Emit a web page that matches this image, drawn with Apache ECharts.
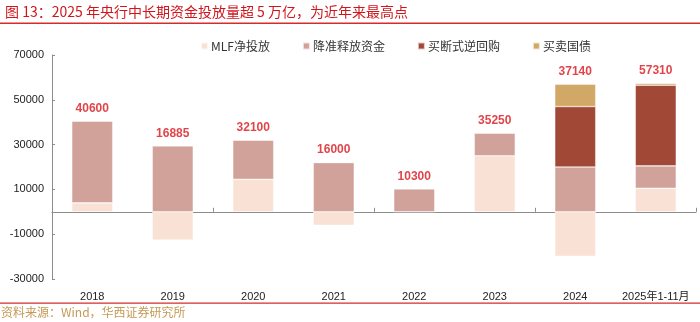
<!DOCTYPE html>
<html><head><meta charset="utf-8">
<script src="https://cdn.jsdelivr.net/npm/echarts@6/dist/echarts.min.js"></script>
<style>html,body{margin:0;padding:0;background:#fff}#c{width:700px;height:322px}</style>
</head><body><div id="c"></div>
<script>
var categories = ['2018','2019','2020','2021','2022','2023','2024','2025年1-11月'];
var mlf = [4000, -12615, 14500, -6000, 0, 25000, -19860, 10500];
var rrr = [36600, 29500, 17600, 22000, 10300, 10250, 20000, 10000];
var outrightRepo = [0, 0, 0, 0, 0, 0, 27000, 36000];
var bonds = [0, 0, 0, 0, 0, 0, 10000, 810];
var totals = [40600, 16885, 32100, 16000, 10300, 35250, 37140, 57310];
var yTicks = [-30000, 70000, 20000]; // min, max, interval

var positiveTop = categories.map(function(_, i){
  var s = 0;
  [mlf, rrr, outrightRepo, bonds].forEach(function(a){ if (a[i] > 0) s += a[i]; });
  return s;
});

var font = '"Liberation Sans", Arial, "Noto Sans CJK SC", sans-serif';
var cjk = '"Noto Sans CJK SC", "Liberation Sans", sans-serif';
var border = {borderColor: 'rgba(255,255,255,0.7)', borderWidth: 0.6};

function bar(name, data, color){
  return {name: name, type: 'bar', stack: 'total', data: data, barWidth: 41,
    xAxisIndex: 0, itemStyle: Object.assign({color: color}, border)};
}

var chart = echarts.init(document.getElementById('c'), null, {renderer: 'canvas'});
chart.setOption({
  animation: false,
  textStyle: {fontFamily: font},
  title: {
    text: '图 13：2025 年央行中长期资金投放量超 5 万亿，为近年来最高点',
    left: 0, top: 0,
    textStyle: {color: '#D0161C', fontSize: 14, fontWeight: 'normal', fontFamily: cjk}
  },
  graphic: [
    {type: 'rect', shape: {x: 0, y: 22.5, width: 700, height: 1.6}, style: {fill: '#D52B2B'}},
    {type: 'rect', shape: {x: 0, y: 302.5, width: 700, height: 1.2}, style: {fill: '#D52B2B'}},
    {type: 'text', left: 1, top: 306, style: {text: '资料来源：Wind，华西证券研究所', fill: '#C49A55', fontSize: 12, fontFamily: cjk}}
  ],
  legend: {
    data: ['MLF净投放', '降准释放资金', '买断式逆回购', '买卖国债'],
    left: 195, top: 35, itemWidth: 7, itemHeight: 7, itemGap: 32,
    icon: 'rect',
    textStyle: {fontSize: 12, color: '#333', fontFamily: cjk, padding: [0,0,0,-2]}
  },
  grid: {left: 52, right: 4, top: 55, bottom: 43, containLabel: false},
  xAxis: [
    {type: 'category', data: categories, position: 'bottom',
      axisLine: {onZero: true, lineStyle: {color: '#8c8c8c', width: 1}},
      axisTick: {show: true, inside: true, length: 4, lineStyle: {color: '#8c8c8c'}},
      axisLabel: {show: false}},
    {type: 'category', data: categories, position: 'bottom',
      axisLine: {show: false, onZero: false}, axisTick: {show: false},
      axisLabel: {show: true, interval: 0, margin: 12, fontSize: 11, color: '#222', fontFamily: font}}
  ],
  yAxis: {
    type: 'value', min: yTicks[0], max: yTicks[1], interval: yTicks[2],
    axisLine: {show: true, lineStyle: {color: '#8c8c8c'}},
    axisTick: {show: true, inside: true, length: 3, lineStyle: {color: '#8c8c8c'}},
    splitLine: {show: false},
    axisLabel: {fontSize: 11, color: '#222', margin: 8, fontFamily: font,
      formatter: function(v){ return String(v); }}
  },
  series: [
    bar('MLF净投放', mlf, '#F9E2D5'),
    bar('降准释放资金', rrr, '#D1A29A'),
    bar('买断式逆回购', outrightRepo, '#A14836'),
    bar('买卖国债', bonds, '#D1A865'),
    {name: 'totalLabel', type: 'scatter', xAxisIndex: 0, data: positiveTop,
      symbolSize: 1, itemStyle: {color: 'rgba(0,0,0,0)'}, silent: true, z: 10,
      label: {show: true, position: 'top', distance: 6, fontSize: 12, fontWeight: 'bold',
        color: '#D9141B', fontFamily: font, formatter: function(p){ return totals[p.dataIndex]; }}}
  ]
});
</script></body></html>
